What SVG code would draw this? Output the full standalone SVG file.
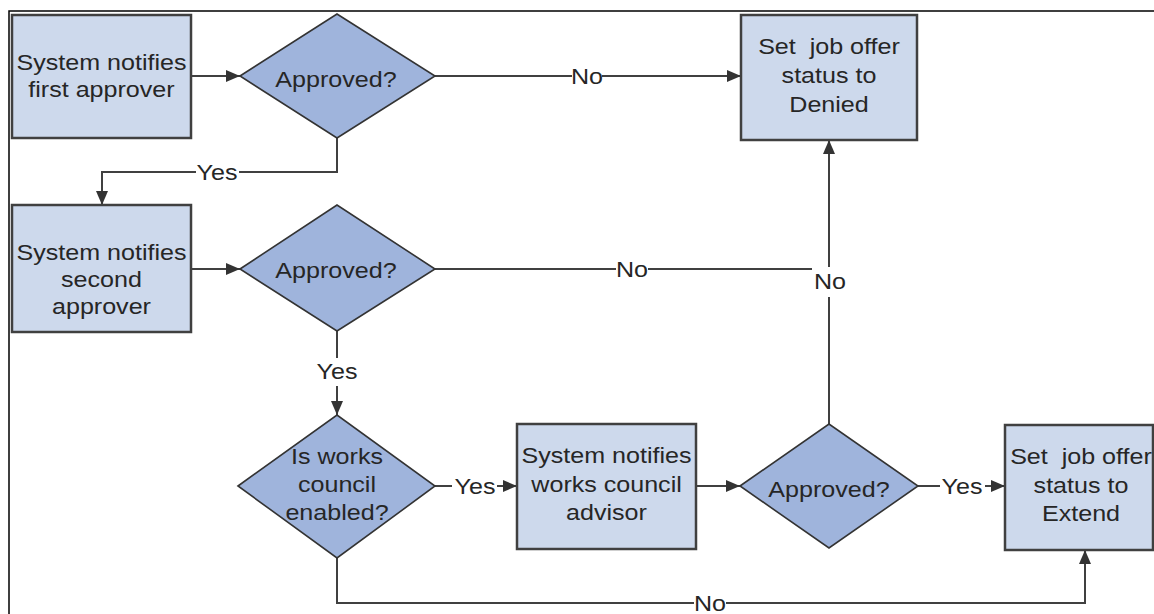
<svg xmlns="http://www.w3.org/2000/svg" width="1154" height="614" viewBox="0 0 1154 614">
<style>
.box{fill:#cdd9ec;stroke:#404040;stroke-width:2.5}
.dia{fill:#9fb4dc;stroke:#333333;stroke-width:1.6}
.t{font-family:"Liberation Sans",Arial,sans-serif;font-size:22px;fill:#262626;text-anchor:middle;white-space:pre;transform:scaleX(1.14);transform-box:fill-box;transform-origin:center}
.c{fill:none;stroke:#404040;stroke-width:2}
.a{marker-end:url(#arr)}
</style>
<defs>
<marker id="arr" markerUnits="userSpaceOnUse" markerWidth="14" markerHeight="12" refX="14" refY="6" orient="auto">
<path d="M0,0 L14,6 L0,12 z" fill="#333333"/>
</marker>
</defs>
<rect width="1154" height="614" fill="#ffffff"/>
<path d="M9,614 V11 H1154" fill="none" stroke="#000" stroke-width="1.5"/>

<g id="connectors">
<path class="c a" d="M191,76 H240"/>
<path class="c" d="M435,76 H572"/>
<path class="c a" d="M602,76 H741"/>
<path class="c" d="M337,138 V172 H239"/>
<path class="c a" d="M196,172 H102 V205"/>
<path class="c a" d="M191,269 H240"/>
<path class="c" d="M435,269 H616"/>
<path class="c" d="M648,269 H812"/>
<path class="c" d="M337,331 V358"/>
<path class="c a" d="M337,386 V415"/>
<path class="c" d="M435,486 H452"/>
<path class="c a" d="M497,486 H517"/>
<path class="c a" d="M696,486 H740"/>
<path class="c" d="M918,486 H940"/>
<path class="c a" d="M985,486 H1005"/>
<path class="c" d="M829,424 V297"/>
<path class="c a" d="M829,267 V140"/>
<path class="c" d="M337,558 V603 H694"/>
<path class="c a" d="M726,603 H1085 V550"/>
<text class="t" x="587" y="84">No</text>
<text class="t" x="217" y="180">Yes</text>
<text class="t" x="632" y="277">No</text>
<text class="t" x="337" y="379">Yes</text>
<text class="t" x="475" y="494">Yes</text>
<text class="t" x="962" y="494">Yes</text>
<text class="t" x="830" y="289">No</text>
<text class="t" x="710" y="611">No</text>
</g>

<g id="n1">
<rect class="box" x="12" y="15" width="179" height="123"/>
<text class="t" x="101.5" y="70">System notifies</text>
<text class="t" x="101.5" y="97">first approver</text>
</g>
<g id="d1">
<polygon class="dia" points="240,76 337,14 435,76 337,138"/>
<text class="t" x="336" y="87">Approved?</text>
</g>
<g id="n2">
<rect class="box" x="12" y="205" width="179" height="127"/>
<text class="t" x="101.5" y="260">System notifies</text>
<text class="t" x="101.5" y="287">second</text>
<text class="t" x="101.5" y="314">approver</text>
</g>
<g id="d2">
<polygon class="dia" points="240,269 337,205 435,269 337,331"/>
<text class="t" x="336" y="278">Approved?</text>
</g>
<g id="n3">
<rect class="box" x="741" y="15" width="176" height="125"/>
<text class="t" x="829" y="54">Set  job offer</text>
<text class="t" x="829" y="83">status to</text>
<text class="t" x="829" y="112">Denied</text>
</g>
<g id="d3">
<polygon class="dia" points="238,486 337,415 435,486 337,558"/>
<text class="t" x="337" y="464">Is works</text>
<text class="t" x="337" y="492">council</text>
<text class="t" x="337" y="520">enabled?</text>
</g>
<g id="n4">
<rect class="box" x="517" y="424" width="179" height="125"/>
<text class="t" x="606.5" y="463">System notifies</text>
<text class="t" x="606.5" y="492">works council</text>
<text class="t" x="606.5" y="520">advisor</text>
</g>
<g id="d4">
<polygon class="dia" points="740,486 829,424 918,486 829,548"/>
<text class="t" x="829" y="497">Approved?</text>
</g>
<g id="n5">
<rect class="box" x="1005" y="425" width="148" height="125"/>
<text class="t" x="1081" y="464">Set  job offer</text>
<text class="t" x="1081" y="493">status to</text>
<text class="t" x="1081" y="521">Extend</text>
</g>
</svg>
